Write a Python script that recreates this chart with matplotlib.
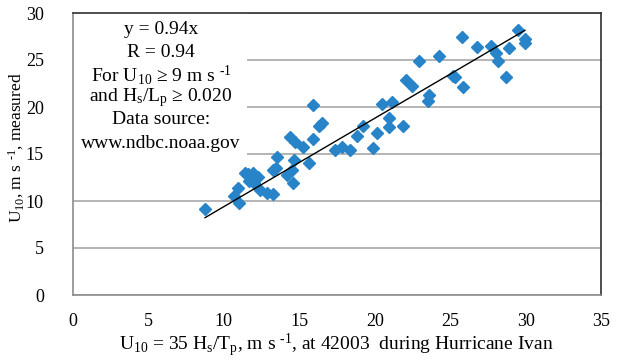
import matplotlib
matplotlib.use("Agg")
import matplotlib.pyplot as plt
from matplotlib.patches import Rectangle
import numpy as np

plt.rcParams['font.family'] = ['Liberation Serif', 'DejaVu Serif']
plt.rcParams['mathtext.fontset'] = 'custom'
plt.rcParams['mathtext.rm'] = 'Liberation Serif'
plt.rcParams['mathtext.it'] = 'Liberation Serif:italic'

# Data (U10 from Hs/Tp vs measured U10)
x_est = [8.75, 10.92, 10.69, 11.02, 11.62, 11.91, 11.69, 12.28, 12.0, 12.4,
         12.84, 13.28, 13.54, 13.46, 14.16, 14.56, 14.65, 14.5, 15.67, 15.93,
         16.48, 16.33, 15.89, 15.27, 17.37, 17.81, 18.36, 18.85, 19.25, 19.91,
         20.17, 20.46, 21.12, 20.97, 20.97, 21.9, 22.07, 22.5, 22.96, 24.28,
         23.62, 23.55, 25.2, 25.35, 25.87, 25.76, 26.76, 27.69, 28.04, 28.15,
         28.7, 28.92, 29.52, 29.96, 29.96, 14.38, 14.72, 11.4, 13.28]
y_meas = [9.12, 11.42, 10.53, 9.82, 12.87, 13.0, 12.16, 12.59, 11.88, 11.17,
          10.88, 10.71, 14.65, 13.48, 12.77, 11.88, 14.36, 13.3, 14.07, 20.21,
          18.26, 17.98, 16.6, 15.78, 15.43, 15.78, 15.43, 16.91, 18.0, 15.6,
          17.2, 20.3, 20.5, 18.8, 17.84, 17.98, 22.87, 22.23, 24.89, 25.43,
          21.3, 20.67, 23.3, 23.2, 22.1, 27.4, 26.35, 26.49, 25.78, 24.9,
          23.16, 26.24, 28.19, 27.2, 26.78, 16.84, 16.3, 12.95, 13.3]
slope = 0.94
x_ticks = [0, 5, 10, 15, 20, 25, 30, 35]
y_ticks = [0, 5, 10, 15, 20, 25, 30]

W, H = 623, 363
fig = plt.figure(figsize=(W / 100, H / 100), dpi=100)
ax = fig.add_axes([73 / W, 1 - 295 / H, (601 - 73) / W, (295 - 13) / H])

ax.set_xlim(0, 35)
ax.set_ylim(0, 30)
ax.set_xticks(x_ticks)
ax.set_yticks(y_ticks)
ax.tick_params(axis='both', length=0, labelsize=13, colors='black')
ax.tick_params(axis='x', pad=13)
ax.tick_params(axis='y', pad=21)
ax.yaxis.grid(True, color='#A0A0A0', linewidth=1.1, zorder=0)
ax.set_axisbelow(True)

for s in ['left', 'bottom']:
    ax.spines[s].set_color('#8C8C8C')
    ax.spines[s].set_linewidth(1.2)
for s in ['top', 'right']:
    ax.spines[s].set_color('#303030')
    ax.spines[s].set_linewidth(1.2)

# white text-box background covering gridlines
ax.add_patch(Rectangle((0, 0.478), (247 - 73) / (601 - 73), 0.522,
                       transform=ax.transAxes, facecolor='white',
                       edgecolor='none', zorder=1.5))

ax.plot(x_est, y_meas, linestyle='none', marker='D', markersize=6.3,
        color='#2784C8', zorder=3)

xs = np.array([min(x_est), max(x_est)])
ax.plot(xs, slope * xs, color='black', linewidth=1.0, zorder=4)

HY = "\u2010"
lines = ["y = 0.94x",
         "R = 0.94",
         r"For U$_{\mathregular{10}}$ ≥ 9 m s $^{\mathregular{" + HY + "1}}$",
         r"and H$_{\mathregular{s}}$/L$_{\mathregular{p}}$ ≥ 0.020",
         "Data source:",
         "www.ndbc.noaa.gov"]
ys_px = [30, 52.5, 75, 97.5, 120, 143]
for t, yp in zip(lines, ys_px):
    ax.text((161 - 73) / (601 - 73), (295 - yp) / (295 - 13), t,
            transform=ax.transAxes, ha='center', va='center',
            fontsize=14, zorder=5)

fig.text(336 / W, 1 - 345 / H,
         r"U$_{\mathregular{10}}$ = 35 H$_{\mathregular{s}}$/T$_{\mathregular{p}}$, m s $^{\mathregular{" + HY + "1}}$, at 42003  during Hurricane Ivan",
         ha='center', va='center', fontsize=14)
fig.text(16 / W, 1 - 148 / H,
         r"U$_{\mathregular{10}}$, m s $^{\mathregular{" + HY + "1}}$, measured",
         ha='center', va='center', rotation=90, fontsize=12.5)

fig.savefig("out.png", dpi=100)
